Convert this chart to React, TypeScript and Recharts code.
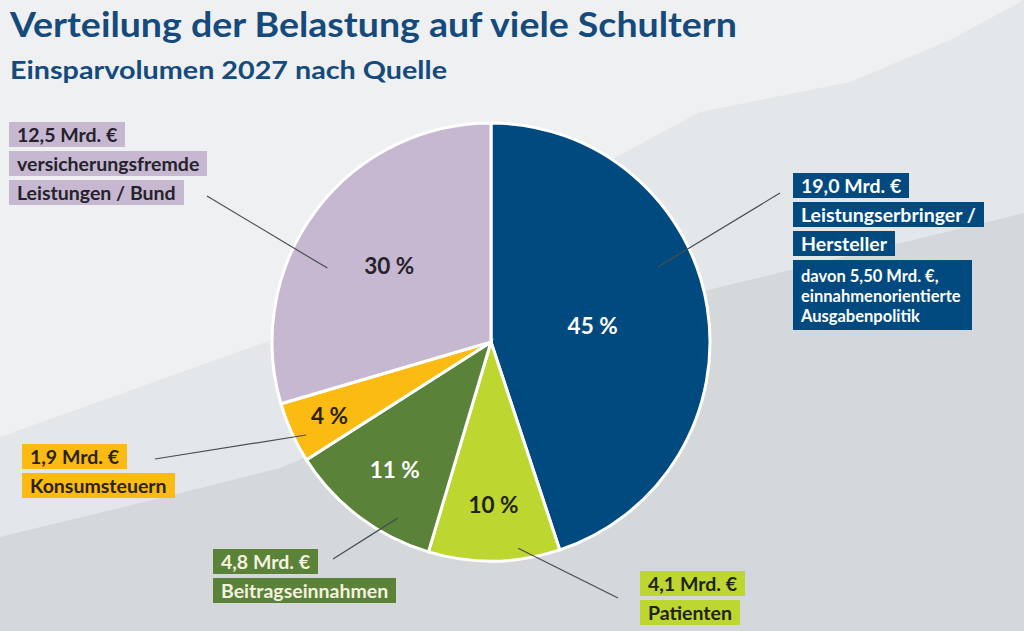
import { PieChart, Pie, Cell } from 'recharts';

// Einsparvolumen 2027 nach Quelle, clockwise from 12 o'clock
const SOURCES = ['Leistungserbringer / Hersteller', 'Patienten', 'Beitragseinnahmen', 'Konsumsteuern', 'versicherungsfremde Leistungen / Bund'];
const VALUES = [19.0, 4.1, 4.8, 1.9, 12.5];
const PCT_LABELS = ['45 %', '10 %', '11 %', '4 %', '30 %'];
const AMOUNT_LABELS = ['19,0 Mrd. €', '4,1 Mrd. €', '4,8 Mrd. €', '1,9 Mrd. €', '12,5 Mrd. €'];
const NAME_LINES = [
    ['Leistungserbringer /', 'Hersteller'],
    ['Patienten'],
    ['Beitragseinnahmen'],
    ['Konsumsteuern'],
    ['versicherungsfremde', 'Leistungen / Bund'],
];
const NOTE_LINES = ['davon 5,50 Mrd. €,', 'einnahmenorientierte', 'Ausgabenpolitik'];

const COLORS = ['#004a80', '#bed630', '#5a8239', '#fbbb13', '#c5b8d0'];
const TEXT_COLORS = ['#ffffff', '#1f2412', '#f4f2df', '#2a2310', '#26222c'];
const PCT_COLORS = ['#ffffff', '#1f2412', '#ffffff', '#2a2310', '#26222c'];

// label radius (fraction of outer radius) for the percent inside the slices
const PCT_R = [0.47, 0.74, 0.73, 0.81, 0.58];
// leader lines: start angle / radius fraction inside the slice, end point next to the label box
const LEADERS = [
    { angle: 24.2, r: 0.835, x2: 780, y2: 193 },
    { angle: -82.5, r: 0.95, x2: 618, y2: 598 },
    { angle: -117.9, r: 0.91, x2: 333, y2: 559 },
    { angle: -153.3, r: 0.945, x2: 155, y2: 459 },
    { angle: 155.7, r: 0.82, x2: 207, y2: 196 },
];
// where each label box sits
const BOXES = [
    { left: 793, top: 173 },
    { left: 640, top: 571 },
    { left: 213, top: 549 },
    { left: 22, top: 444 },
    { left: 9, top: 122 },
];

const data = SOURCES.map((name, i) => ({ name, value: VALUES[i] }));
const RAD = Math.PI / 180;
const FONT = 'Lato, "Open Sans", sans-serif';

function renderLabel({ cx, cy, midAngle, outerRadius, index }: any) {
    const r = outerRadius * PCT_R[index];
    const x = cx + r * Math.cos(-midAngle * RAD);
    const y = cy + r * Math.sin(-midAngle * RAD);
    const ld = LEADERS[index];
    const lr = outerRadius * ld.r;
    const x1 = cx + lr * Math.cos(-ld.angle * RAD);
    const y1 = cy + lr * Math.sin(-ld.angle * RAD);
    return (
        <g key={`lbl-${index}`}>
            <line x1={x1} y1={y1} x2={ld.x2} y2={ld.y2} stroke="#4a4d50" strokeWidth={1.2} />
            <text
                x={x}
                y={y}
                textAnchor="middle"
                dominantBaseline="central"
                fill={PCT_COLORS[index]}
                style={{ fontFamily: FONT, fontWeight: 700, fontSize: 22.5 }}
            >
                {PCT_LABELS[index]}
            </text>
        </g>
    );
}

function LabelBox({ index }: { index: number }) {
    const { left, top } = BOXES[index];
    const lines = [AMOUNT_LABELS[index], ...NAME_LINES[index]];
    const boxStyle = {
        position: 'absolute' as const,
        left,
        height: 25,
        lineHeight: '25px',
        padding: '0 8px',
        background: COLORS[index],
        color: TEXT_COLORS[index],
        fontFamily: FONT,
        fontWeight: 700,
        fontSize: 19.5,
        whiteSpace: 'nowrap' as const,
    };
    return (
        <>
            {lines.map((t, i) => (
                <div key={t} style={{ ...boxStyle, top: top + i * 29 }}>{t}</div>
            ))}
            {index === 0 && (
                <div
                    style={{
                        position: 'absolute',
                        left,
                        top: top + lines.length * 29,
                        width: 163,
                        height: 58,
                        padding: '6px 8px',
                        background: COLORS[0],
                        color: '#ffffff',
                        fontFamily: FONT,
                        fontWeight: 700,
                        fontSize: 16.5,
                        lineHeight: '20px',
                        whiteSpace: 'nowrap',
                    }}
                >
                    {NOTE_LINES.map((t) => <div key={t}>{t}</div>)}
                </div>
            )}
        </>
    );
}

export default function App() {
    return (
        <div style={{ position: 'absolute', left: 0, top: 0, width: 1024, height: 631, overflow: 'hidden' }}>
            <svg width={1024} height={631} style={{ position: 'absolute', left: 0, top: 0 }}>
                <rect width={1024} height={631} fill="#eff0f1" />
                <polygon points="0,437 280,337 700,112 850,82 950,40 1024,0 1024,631 0,631" fill="#e4e7e9" />
                <polygon points="0,537 177,494 280,468 700,292 1024,213 1024,631 0,631" fill="#d4d8db" />
                <text
                    x={10}
                    y={37}
                    fill="#154a7c"
                    textLength={727}
                    lengthAdjust="spacingAndGlyphs"
                    style={{ fontFamily: FONT, fontWeight: 700, fontSize: 35 }}
                >
                    Verteilung der Belastung auf viele Schultern
                </text>
                <text
                    x={10}
                    y={79}
                    fill="#154a7c"
                    textLength={437}
                    lengthAdjust="spacingAndGlyphs"
                    style={{ fontFamily: FONT, fontWeight: 700, fontSize: 24 }}
                >
                    Einsparvolumen 2027 nach Quelle
                </text>
            </svg>
            <div style={{ position: 'absolute', left: 0, top: 0 }}>
                <PieChart width={1024} height={631} margin={{ top: 0, right: 0, bottom: 0, left: 0 }}>
                    <Pie
                        data={data}
                        dataKey="value"
                        nameKey="name"
                        cx={491}
                        cy={342}
                        outerRadius={219}
                        startAngle={90}
                        endAngle={-270}
                        stroke="#ffffff"
                        strokeWidth={3}
                        label={renderLabel}
                        labelLine={false}
                        isAnimationActive={false}
                    >
                        {data.map((d, i) => (
                            <Cell key={d.name} fill={COLORS[i]} />
                        ))}
                    </Pie>
                </PieChart>
            </div>
            {BOXES.map((_, i) => <LabelBox key={i} index={i} />)}
        </div>
    );
}
